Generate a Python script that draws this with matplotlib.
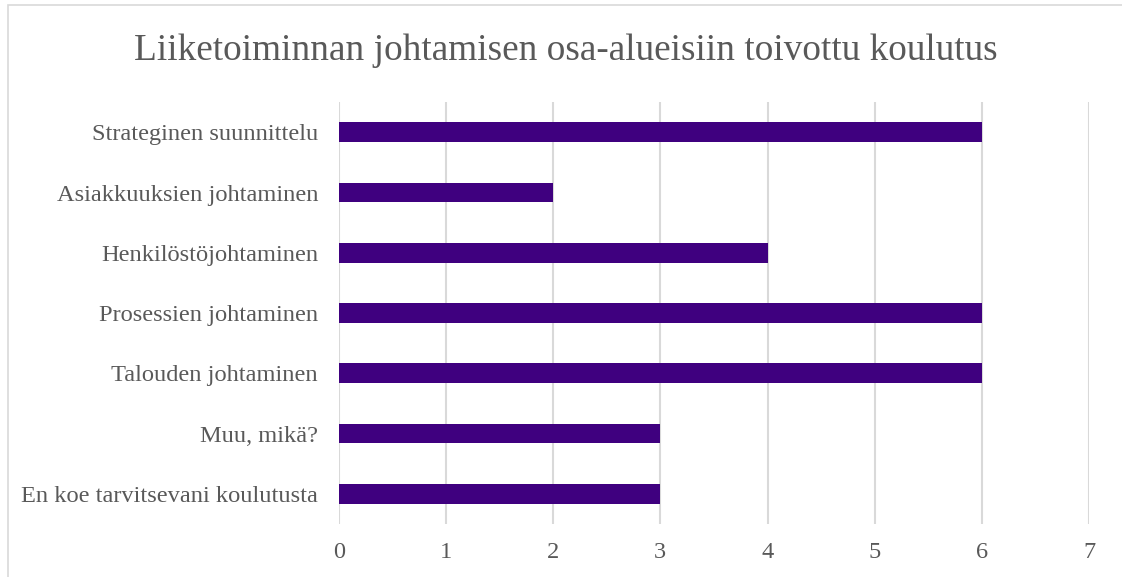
import matplotlib.pyplot as plt
from matplotlib.patches import Rectangle

# ── Data ───────────────────────────────────────────────────────────────────
categories = [
    "Strateginen suunnittelu",
    "Asiakkuuksien johtaminen",
    "Henkilöstöjohtaminen",
    "Prosessien johtaminen",
    "Talouden johtaminen",
    "Muu, mikä?",
    "En koe tarvitsevani koulutusta",
]
values = [6, 2, 4, 6, 6, 3, 3]
x_ticks = [0, 1, 2, 3, 4, 5, 6, 7]

TITLE = "Liiketoiminnan johtamisen osa-alueisiin toivottu koulutus"
BAR_COLOR = "#3F007F"
TEXT_COLOR = "#595959"
GRID_COLOR = "#D9D9D9"

plt.rcParams["font.family"] = ["Liberation Serif", "DejaVu Serif"]

fig = plt.figure(figsize=(11.22, 5.77), dpi=100)
ax = fig.add_axes([0.302, 0.092, 0.6686, 0.731])

# outer chart frame
fig.patches.append(Rectangle((8 / 1122, -0.1), 1.2, 1 - 5 / 577 + 0.1,
                             transform=fig.transFigure, fill=False,
                             edgecolor=GRID_COLOR, linewidth=1.2))

y_pos = list(range(len(categories)))
ax.barh(y_pos, values, height=0.33, color=BAR_COLOR, zorder=3)
ax.set_yticks(y_pos)
ax.set_yticklabels(categories)
ax.set_ylim(len(categories) - 0.5, -0.5)

ax.set_xlim(0, 7)
ax.set_xticks(x_ticks)
ax.xaxis.grid(True, color=GRID_COLOR, linewidth=1.5, zorder=0)

for s in ax.spines.values():
    s.set_visible(False)
ax.tick_params(axis="both", length=0, labelsize=17.6, labelcolor=TEXT_COLOR)
ax.tick_params(axis="x", pad=13)
ax.tick_params(axis="y", pad=15)

fig.text(0.504, 0.912, TITLE, ha="center", va="center",
         fontsize=26.8, color=TEXT_COLOR)

fig.savefig("out.png", dpi=100)
